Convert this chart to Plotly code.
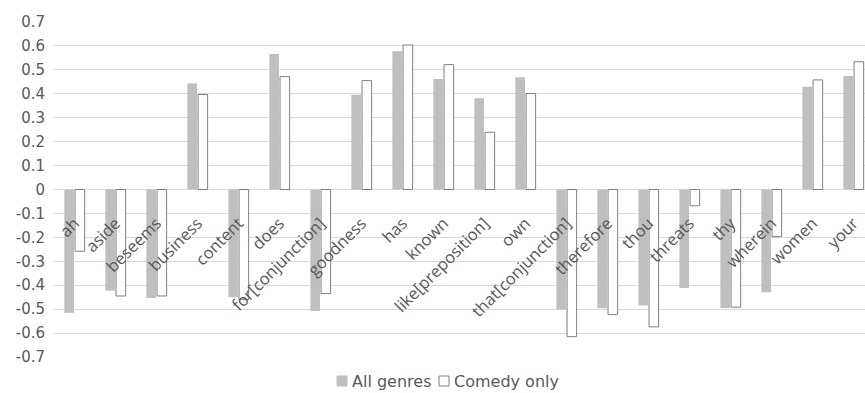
import plotly.graph_objects as go

categories = ["ah", "aside", "beseems", "business", "content", "does", "for[conjunction]",
              "goodness", "has", "known", "like[preposition]", "own", "that[conjunction]",
              "therefore", "thou", "threats", "thy", "wherein", "women", "your"]
all_genres = [-0.515, -0.423, -0.453, 0.443, -0.45, 0.566, -0.508, 0.396, 0.578, 0.462,
              0.381, 0.469, -0.502, -0.496, -0.485, -0.412, -0.495, -0.429, 0.429, 0.474]
comedy_only = [-0.258, -0.445, -0.445, 0.397, -0.46, 0.472, -0.435, 0.455, 0.604, 0.522,
               0.239, 0.401, -0.615, -0.523, -0.574, -0.068, -0.492, -0.197, 0.458, 0.534]
y_ticks = [round(-0.7 + 0.1 * i, 1) for i in range(15)]
y_tick_text = ["0" if abs(v) < 1e-9 else f"{v:g}" for v in y_ticks]
series_names = ["All genres", "Comedy only"]
series_fill = ["#bfbfbf", "#ffffff"]
series_line = ["#bfbfbf", "#7f7f7f"]

W, H = 865, 393
ML, MR, MT, MB = 54, 0, 22, 36
LABEL_FONT = "DejaVu Sans"


def px_x(px):
    return (px - ML) / (W - ML - MR)


def px_y(py):
    return 1 - (py - MT) / (H - MT - MB)


fig = go.Figure()
for name, vals, fill, line in zip(series_names, [all_genres, comedy_only], series_fill, series_line):
    fig.add_trace(go.Bar(x=categories, y=vals, name=name, showlegend=False,
                         marker=dict(color=fill,
                                     line=dict(color=line, width=0 if fill != "#ffffff" else 1))))

# compact Excel-style legend
legend_sq = [(337, 347), (439, 449)]
legend_txt_x = [350, 452]
shapes = []
annotations = []
for (x0, x1), tx, name, fill, line in zip(legend_sq, legend_txt_x, series_names, series_fill, series_line):
    shapes.append(dict(type="rect", xref="paper", yref="paper",
                       x0=px_x(x0), x1=px_x(x1), y0=px_y(386), y1=px_y(376),
                       fillcolor=fill, line=dict(color=line, width=1)))
    annotations.append(dict(text=name, xref="paper", yref="paper", x=px_x(tx), y=px_y(381),
                            xanchor="left", yanchor="middle", showarrow=False,
                            font=dict(family=LABEL_FONT, size=16, color="#595959")))

fig.update_layout(
    width=W, height=H,
    margin=dict(l=ML, r=MR, t=MT, b=MB),
    paper_bgcolor="white", plot_bgcolor="white",
    barmode="group", bargap=0.48, bargroupgap=0.1,
    showlegend=False,
    shapes=shapes, annotations=annotations,
    xaxis=dict(type="category", range=[-0.5, 19.28], anchor="free", position=0.5,
               automargin=False,
               showgrid=False, zeroline=False, showline=False, ticks="",
               tickangle=-45, ticklabelstandoff=20,
               tickfont=dict(family="Open Sans", size=16.5, color="#595959")),
    yaxis=dict(range=[-0.7, 0.7], tickvals=y_ticks, ticktext=y_tick_text,
               automargin=False,
               showgrid=True, gridcolor="#d9d9d9", gridwidth=1,
               zeroline=True, zerolinecolor="#d9d9d9", zerolinewidth=1,
               showline=False, ticks="", ticklabelstandoff=8,
               tickfont=dict(family=LABEL_FONT, size=15, color="#595959")),
)

fig.write_html("out.html", config={"displayModeBar": False},
               post_script="document.body.style.margin='0';document.body.style.overflow='hidden';")
